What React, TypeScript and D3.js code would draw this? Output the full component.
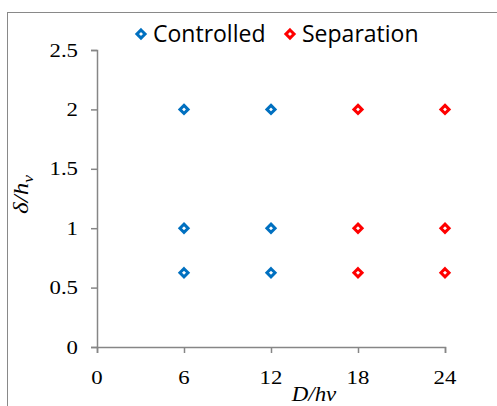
import { useEffect, useRef } from 'react';
import * as d3 from 'd3';

// values
const seriesNames = ['Controlled', 'Separation'];
const seriesColors = ['#0070c0', '#ff0000'];
const controlledX = [6, 6, 6, 12, 12, 12];
const controlledY = [2, 1, 0.625, 2, 1, 0.625];
const separationX = [18, 18, 18, 24, 24, 24];
const separationY = [2, 1, 0.625, 2, 1, 0.625];
const xTicks = [0, 6, 12, 18, 24];
const yTicks = [0, 0.5, 1, 1.5, 2, 2.5];

export default function App() {
  const svgRef = useRef<SVGSVGElement>(null);

  useEffect(() => {
    if (!svgRef.current) return;
    const svg = d3.select(svgRef.current);
    svg.selectAll('*').remove();

    // chart area border
    svg
      .append('rect')
      .attr('x', 7.5)
      .attr('y', 12.5)
      .attr('width', 500)
      .attr('height', 400)
      .attr('fill', '#fff')
      .attr('stroke', '#898989')
      .attr('stroke-width', 1);

    const x = d3.scaleLinear().domain([0, 24]).range([97, 445]);
    const y = d3.scaleLinear().domain([0, 2.5]).range([347, 50]);

    const axisColor = '#868686';
    const serif = '"Liberation Serif", "Times New Roman", serif';

    // text helper: scaled horizontally around its anchor (tick labels look wide)
    const label = (tx: number, ty: number, txt: string, anchor: string, size = 19, sx = 1.2) =>
      svg
        .append('text')
        .attr('transform', `translate(${tx},${ty}) scale(${sx},1)`)
        .attr('text-anchor', anchor)
        .attr('font-family', serif)
        .attr('font-size', size)
        .attr('fill', '#000')
        .text(txt);

    // y axis
    const yAxis = svg
      .append('g')
      .attr('transform', `translate(${x(0)},0)`)
      .call(d3.axisLeft(y).tickValues(yTicks).tickSize(6).tickFormat(() => ''));
    // x axis
    const xAxis = svg
      .append('g')
      .attr('transform', `translate(0,${y(0)})`)
      .call(d3.axisBottom(x).tickValues(xTicks).tickSize(6).tickFormat(() => ''));

    [yAxis, xAxis].forEach((g) => {
      g.select('.domain').attr('stroke', axisColor).attr('stroke-width', 1.5);
      g.selectAll('.tick line').attr('stroke', axisColor).attr('stroke-width', 1.5);
    });

    yTicks.forEach((t) => label(78, y(t) + 6.5, String(t), 'end'));
    xTicks.forEach((t) => label(x(t), 384, String(t), 'middle'));

    // axis titles
    const yTitle = svg
      .append('text')
      .attr('transform', `translate(28,${y(1.25) - 4}) rotate(-90) scale(1.25,1)`)
      .attr('text-anchor', 'middle')
      .attr('font-family', serif)
      .attr('font-size', 20)
      .attr('font-style', 'italic');
    yTitle.append('tspan').text('δ/h');
    yTitle.append('tspan').attr('font-size', 14).attr('dy', 5).text('v');

    label(314, 401, 'D/hv', 'middle', 22, 1.04).attr('font-style', 'italic');

    const diamond = d3.symbol().type(d3.symbolDiamond2).size(42);

    const series = [
      { xs: controlledX, ys: controlledY },
      { xs: separationX, ys: separationY },
    ];

    series.forEach((s, i) => {
      svg
        .append('g')
        .selectAll('path')
        .data(s.xs.map((v, j) => [v, s.ys[j]]))
        .enter()
        .append('path')
        .attr('d', diamond)
        .attr('transform', (d) => `translate(${x(d[0])},${y(d[1])})`)
        .attr('fill', '#fff')
        .attr('stroke', seriesColors[i])
        .attr('stroke-width', 3);
    });

    // legend
    const legendX = [141, 290];
    seriesNames.forEach((name, i) => {
      svg
        .append('path')
        .attr('d', diamond)
        .attr('transform', `translate(${legendX[i]},34)`)
        .attr('fill', '#fff')
        .attr('stroke', seriesColors[i])
        .attr('stroke-width', 3);
      svg
        .append('text')
        .attr('x', legendX[i] + 12)
        .attr('y', 42)
        .attr('font-family', '"Open Sans", "Liberation Sans", sans-serif')
        .attr('font-size', 23)
        .attr('fill', '#000')
        .text(name);
    });
  }, []);

  return (
    <svg
      ref={svgRef}
      width={497}
      height={406}
      style={{ position: 'absolute', left: 0, top: 0, background: '#fff' }}
    />
  );
}
